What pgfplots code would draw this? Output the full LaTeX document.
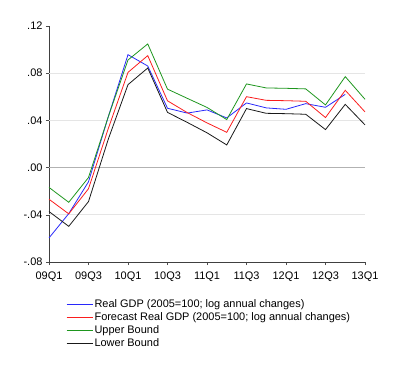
\documentclass[border=0pt]{standalone}
\usepackage{pgfplots}
\pgfplotsset{compat=1.18}
\usepackage{fontspec}
\setmainfont{Liberation Sans}
\definecolor{cblue}{RGB}{40,40,250}
\definecolor{cred}{RGB}{250,30,30}
\definecolor{cgreen}{RGB}{30,150,30}
\definecolor{cblack}{RGB}{25,25,25}
\begin{document}
\begin{tikzpicture}
\useasboundingbox (-49bp,-113bp) rectangle (351bp,262bp);
\begin{axis}[
  scale only axis, width=316bp, height=236bp,
  xmin=0, xmax=16, ymin=-0.08, ymax=0.12,
  axis lines=left, axis line style={-, line width=1pt, black!75},
  xtick={0,2,4,6,8,10,12,14,16},
  xticklabels={09Q1,09Q3,10Q1,10Q3,11Q1,11Q3,12Q1,12Q3,13Q1},
  ytick={-0.08,-0.04,0,0.04,0.08,0.12},
  yticklabels={-.08,-.04,.00,.04,.08,.12},
  tick label style={font=\fontsize{11}{12}\selectfont},
  xticklabel style={yshift=-3bp},
  tick align=outside, major tick length=3bp,
  tick style={black!70, line width=0.6pt},
  extra y ticks={-0.04,0.04,0.08},
  extra y tick labels={},
  extra y tick style={grid=major, major grid style={black!10, line width=0.8pt}, major tick length=0pt},
  clip=false,
  legend style={draw=none, fill=none, at={(axis description cs:0.054,-0.152)}, anchor=north west,
    font=\fontsize{11}{12}\selectfont, inner sep=0pt, row sep=0.6bp, nodes={inner sep=1.5bp}},
  legend cell align=left,
  legend image code/.code={\draw[#1] (0bp,0bp) -- (26bp,0bp);},
  every axis plot/.append style={line width=0.8pt},
]
\draw[black!30, line width=1.3pt] (axis cs:0,0) -- (axis cs:16,0);
\addplot[cblue] coordinates {(0,-0.0596)(1,-0.039)(2,-0.012)(3,0.043)(4,0.0957)(5,0.0861)(6,0.0503)(7,0.0462)(8,0.0489)(9,0.0421)(10,0.0548)(11,0.0506)(12,0.0494)(13,0.0542)(14,0.0511)(15,0.0621)};
\addlegendentry{Real GDP (2005=100; log annual changes)}
\addplot[cred] coordinates {(0,-0.0268)(1,-0.0392)(2,-0.0179)(3,0.033)(4,0.0807)(5,0.0949)(6,0.0566)(7,0.0466)(8,0.0379)(9,0.0299)(10,0.0601)(11,0.057)(12,0.0567)(13,0.0562)(14,0.0424)(15,0.0655)(16,0.0472)};
\addlegendentry{Forecast Real GDP (2005=100; log annual changes)}
\addplot[cgreen] coordinates {(0,-0.0168)(1,-0.0294)(2,-0.0084)(3,0.043)(4,0.0912)(5,0.1048)(6,0.0665)(7,0.0587)(8,0.051)(9,0.0407)(10,0.0709)(11,0.0675)(12,0.0672)(13,0.0667)(14,0.0531)(15,0.0771)(16,0.0579)};
\addlegendentry{Upper Bound}
\addplot[cblack] coordinates {(0,-0.0372)(1,-0.0498)(2,-0.0288)(3,0.024)(4,0.0703)(5,0.0844)(6,0.0468)(7,0.0383)(8,0.0295)(9,0.0192)(10,0.05)(11,0.046)(12,0.0457)(13,0.0452)(14,0.0322)(15,0.0536)(16,0.0362)};
\addlegendentry{Lower Bound}
\end{axis}
\end{tikzpicture}
\end{document}
